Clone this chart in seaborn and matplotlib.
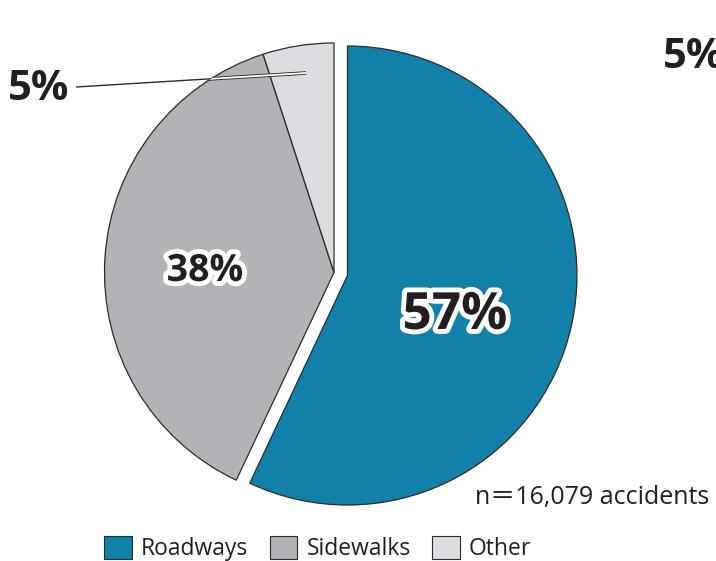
import matplotlib
matplotlib.use("Agg")
import matplotlib.pyplot as plt
import matplotlib.patheffects as pe
from matplotlib.patches import Patch, Circle
import seaborn as sns

categories = ["Roadways", "Sidewalks", "Other"]
shares = [57, 38, 5]
pct_labels = ["57%", "38%", "5%"]
note = "n\uff1d16,079 accidents"

sns.set_style("white")
plt.rcParams["font.family"] = ["Open Sans", "Noto Sans CJK JP", "DejaVu Sans"]

colors = sns.color_palette(["#1181a9", "#b2b3b7", "#dcdde0"])
edge = "#2b2b2b"
ink = "#231f20"

W, H = 716, 561
fig = plt.figure(figsize=(W / 100, H / 100), dpi=100)
ax = fig.add_axes([0, 0, 1, 1])


def py(y):
    """Top-down canvas row -> data y."""
    return H - y


cx, cy, r = 334, py(272.5), 229.5
wedges, _ = ax.pie(
    shares,
    colors=colors,
    startangle=90,
    counterclock=False,
    explode=[13.8, 0, 0],  # offset in data units
    center=(cx, cy),
    radius=r,
    wedgeprops=dict(edgecolor=edge, linewidth=0.9),
    frame=True,
)
ax.set_xlim(0, W)
ax.set_ylim(0, H)
ax.set_aspect("equal")
ax.axis("off")

halo = [pe.withStroke(linewidth=7, foreground="white")]
ax.text(455, py(316), pct_labels[0], fontsize=37, fontweight="bold", color=ink,
        ha="center", va="center", path_effects=halo)
ax.text(205, py(271), pct_labels[1], fontsize=27, fontweight="bold", color=ink,
        ha="center", va="center", path_effects=halo)

# leader for the small slice: thin dark outside, white with dark rim inside the pie
x0, y0, x1, y1 = 76, py(87), 306, py(73)
ax.plot([x0, x1], [y0, y1], color=edge, lw=1.0, solid_capstyle="butt")
rim, = ax.plot([x0, x1], [y0, y1], color=edge, lw=2.6, solid_capstyle="butt")
inner, = ax.plot([x0, x1], [y0, y1], color="white", lw=1.3, solid_capstyle="butt")
for ln in (rim, inner):
    ln.set_clip_path(Circle((cx, cy), r, transform=ax.transData))
ax.text(39, py(89), pct_labels[2], fontsize=30, fontweight="bold", color=ink,
        ha="center", va="center")
ax.text(663, py(57), pct_labels[2], fontsize=30, fontweight="bold", color=ink,
        ha="left", va="center")

ax.text(475, py(504), note, fontsize=18, color=ink, ha="left", va="baseline")

handles = [Patch(facecolor=c, edgecolor=edge, linewidth=0.8, label=l)
           for c, l in zip(colors, categories)]
ax.legend(handles=handles, ncol=3, frameon=False, fontsize=16.5,
          loc="upper left", bbox_to_anchor=(104 / W, 1 - 536 / H),
          borderpad=0, borderaxespad=0, handlelength=1.2, handleheight=1.2,
          handletextpad=0.4, columnspacing=0.95, labelcolor=ink)

fig.savefig("out.png", dpi=100)
